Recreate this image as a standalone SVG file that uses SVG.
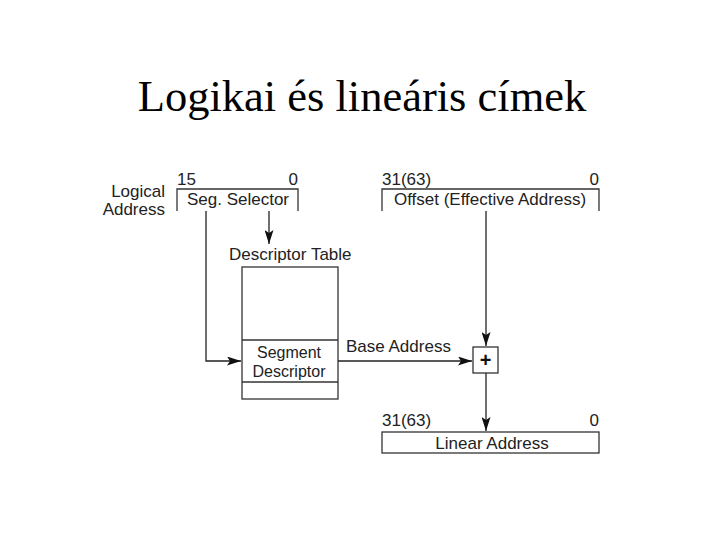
<svg xmlns="http://www.w3.org/2000/svg" width="720" height="540" viewBox="0 0 720 540">
<defs>
<marker id="ah" viewBox="0 0 14 9" refX="14" refY="4.5" markerWidth="14" markerHeight="9" markerUnits="userSpaceOnUse" orient="auto">
<path d="M0,0 L14,4.5 L0,9 L3,4.5 Z" fill="#111"/>
</marker>
</defs>
<style>
.t{font-family:"Liberation Sans",Arial,sans-serif;font-size:17px;fill:#222}
.s{font-size:16px}
.title{font-family:"Liberation Serif","Times New Roman",serif;font-size:44.5px;fill:#000}
.box{fill:none;stroke:#333;stroke-width:1.3}
.ln{fill:none;stroke:#333;stroke-width:1.3}
.ar{fill:none;stroke:#222;stroke-width:1.3;marker-end:url(#ah)}
</style>
<rect width="720" height="540" fill="#fff"/>
<text class="title" x="362" y="111" text-anchor="middle">Logikai és lineáris címek</text>

<g id="logical-address">
<text class="t" x="165" y="197" text-anchor="end">Logical</text>
<text class="t" x="165" y="215" text-anchor="end">Address</text>
</g>

<g id="seg-selector">
<text class="t" x="177" y="185">15</text>
<text class="t" x="298" y="185" text-anchor="end">0</text>
<path class="box" d="M177,211 V189 H298 V211"/>
<text class="t" x="238" y="205" text-anchor="middle">Seg. Selector</text>
</g>

<g id="offset">
<text class="t" x="382" y="185">31(63)</text>
<text class="t" x="599" y="185" text-anchor="end">0</text>
<path class="box" d="M382,211 V189 H599 V211"/>
<text class="t" x="490" y="205" text-anchor="middle">Offset (Effective Address)</text>
</g>

<g id="descriptor-table">
<text class="t" x="229" y="260">Descriptor Table</text>
<rect class="box" x="242" y="267" width="96" height="132"/>
<line class="ln" x1="242" y1="340" x2="338" y2="340"/>
<line class="ln" x1="242" y1="382" x2="338" y2="382"/>
<text class="t s" x="289" y="358" text-anchor="middle">Segment</text>
<text class="t s" x="289" y="377" text-anchor="middle">Descriptor</text>
</g>

<g id="adder">
<rect class="box" x="473" y="347" width="25" height="26"/>
<text x="485.5" y="367" text-anchor="middle" style="font-family:'Liberation Sans',Arial,sans-serif;font-size:20px;font-weight:bold;fill:#111">+</text>
</g>

<g id="linear-address">
<text class="t" x="382" y="426">31(63)</text>
<text class="t" x="599" y="426" text-anchor="end">0</text>
<rect class="box" x="382" y="432" width="217" height="21"/>
<text class="t" x="492" y="449" text-anchor="middle">Linear Address</text>
</g>

<g id="connectors">
<path class="ar" d="M269,211 V244"/>
<path class="ar" d="M206,211 V361 H241"/>
<path class="ar" d="M338,361 H472"/>
<text class="t" x="346" y="352">Base Address</text>
<path class="ar" d="M486,211 V346"/>
<path class="ar" d="M486,373 V431"/>
</g>
</svg>
